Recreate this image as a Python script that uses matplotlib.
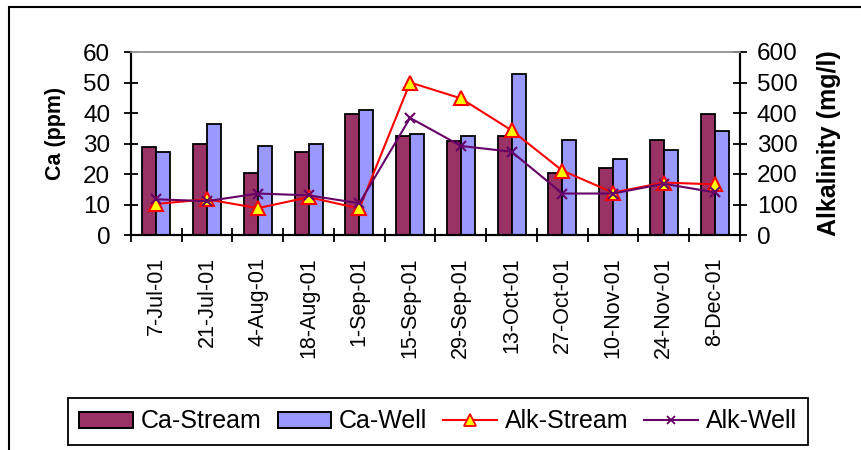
import matplotlib
matplotlib.use("Agg")
import matplotlib.pyplot as plt
import numpy as np
from matplotlib.patches import Patch, Rectangle
from matplotlib.lines import Line2D

plt.rcParams['font.family'] = ['Liberation Sans', 'DejaVu Sans']

dates = ["7-Jul-01", "21-Jul-01", "4-Aug-01", "18-Aug-01", "1-Sep-01", "15-Sep-01",
         "29-Sep-01", "13-Oct-01", "27-Oct-01", "10-Nov-01", "24-Nov-01", "8-Dec-01"]
ca_stream = [28.7, 29.9, 20.2, 27.3, 39.6, 32.6, 30.7, 32.5, 20.2, 22.1, 31.3, 39.8]
ca_well = [27.3, 36.5, 29.2, 29.9, 41.0, 33.2, 32.5, 52.9, 31.3, 24.9, 28.0, 34.0]
alk_stream = [102, 117, 88, 124, 87, 500, 448, 343, 211, 139, 172, 166]
alk_well = [117, 111, 136, 130, 104, 384, 292, 273, 136, 136, 168, 140]

c_stream = "#993366"
c_well = "#9999FF"
c_alk_s = "#FF0000"
c_alk_w = "#660066"

FS_Y = 17.5
FS_X = 15.5
FS_LEG = 18

fig = plt.figure(figsize=(8.62, 4.5), dpi=100)
ax = fig.add_axes([131 / 862, 1 - 235 / 450, (740 - 131) / 862, (235 - 52) / 450])
ax2 = ax.twinx()

x = np.arange(len(dates)) + 0.5
w = 0.275
ax.bar(x - w / 2, ca_stream, w, color=c_stream, edgecolor="black", linewidth=1.3, zorder=2)
ax.bar(x + w / 2, ca_well, w, color=c_well, edgecolor="black", linewidth=1.3, zorder=2)

ax2.plot(x, alk_stream, color=c_alk_s, lw=1.5, marker="^", ms=9.5,
         mfc="#FFFF00", mec=c_alk_s, mew=1.5, zorder=3)
ax2.plot(x, alk_well, color=c_alk_w, lw=1.5, marker="x", ms=6.5,
         mec=c_alk_w, mew=1.5, zorder=4)

ax.set_xlim(0, len(dates))
ax.set_ylim(0, 60)
ax2.set_ylim(0, 600)
ax.set_yticks(np.arange(0, 61, 10))
ax2.set_yticks(np.arange(0, 601, 100))

ax.set_xticks(np.arange(0, len(dates) + 1))
ax.set_xticklabels([])
ax.set_xticks(x, minor=True)
ax.set_xticklabels(dates, minor=True, rotation=90, fontsize=FS_X)
ax.tick_params(axis="x", which="minor", length=0, pad=16)
ax.tick_params(axis="x", which="major", direction="inout", length=10, width=1.3)
ax.tick_params(axis="y", direction="inout", length=10, width=1.3, labelsize=FS_Y, pad=10)
ax2.tick_params(axis="y", direction="inout", length=10, width=1.3, labelsize=FS_Y, pad=7)

for a in (ax, ax2):
    a.spines["top"].set_color("#999999")
    a.spines["top"].set_linewidth(1.2)
    a.spines["left"].set_linewidth(1.5)
    a.spines["right"].set_linewidth(1.5)
    a.spines["bottom"].set_linewidth(1.5)

ax.set_ylabel("Ca (ppm)", fontsize=15.5, fontweight="bold")
ax.yaxis.set_label_coords(-(131 - 66) / 609, (235 - 133) / 183)
ax2.set_ylabel("Alkalinity (mg/l)", fontsize=18, fontweight="bold")
ax2.yaxis.set_label_coords(1 + (817 - 740) / 609, 0.5)

handles = [
    Patch(facecolor=c_stream, edgecolor="black", linewidth=1.4),
    Patch(facecolor=c_well, edgecolor="black", linewidth=1.4),
    Line2D([], [], color=c_alk_s, lw=1.5, marker="^", ms=8.5, mfc="#FFFF00", mec=c_alk_s, mew=1.3),
    Line2D([], [], color=c_alk_w, lw=1.5, marker="x", ms=6, mec=c_alk_w, mew=1.3),
]
labels = ["Ca-Stream", "Ca-Well", "Alk-Stream", "Alk-Well"]
leg = fig.legend(handles, labels, loc="center", bbox_to_anchor=(438 / 862, 1 - 421.5 / 450),
                 ncol=4, fontsize=FS_LEG, frameon=True, fancybox=False, framealpha=1,
                 edgecolor="black", handlelength=2.15, handleheight=0.6,
                 handletextpad=0.29, columnspacing=0.66, borderpad=0.45, borderaxespad=0)
leg.get_frame().set_linewidth(1.3)

# outer chart frame
fig.add_artist(Rectangle((9 / 862, -0.2), 1.2, 1.2 - 7 / 450, transform=fig.transFigure,
                         fill=False, edgecolor="black", linewidth=1.5))

fig.savefig("out.png", dpi=100)
